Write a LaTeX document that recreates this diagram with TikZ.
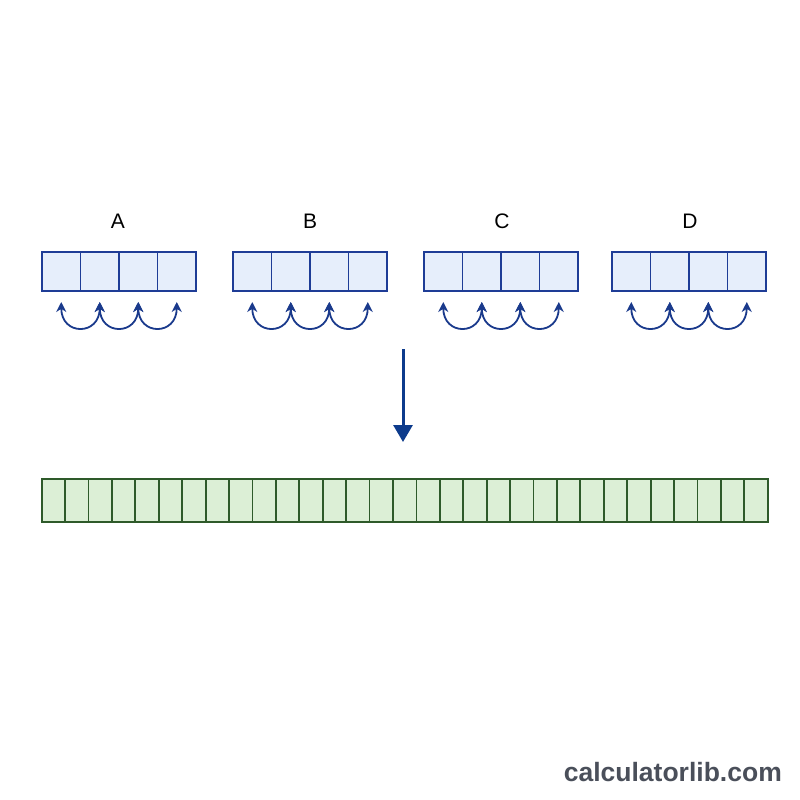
\documentclass[tikz,border=0pt]{standalone}
\usepackage{fontspec}
\setmainfont{Liberation Sans}
\usetikzlibrary{arrows.meta,calc}
\definecolor{bluefill}{HTML}{E6EEFB}
\definecolor{bluedraw}{HTML}{1E3C96}
\definecolor{arcblue}{HTML}{1A3A8C}
\definecolor{arrowblue}{HTML}{0D3B8C}
\definecolor{greenfill}{HTML}{DCEFD6}
\definecolor{greendraw}{HTML}{2E5A2A}
\definecolor{markgray}{HTML}{4A4F5A}
\tikzset{
  bluecell/.style={draw=bluedraw, fill=bluefill, line width=1.8pt, minimum width=38.5pt, minimum height=39pt, inner sep=0pt, outer sep=0pt, anchor=north west},
  greencell/.style={draw=greendraw, fill=greenfill, line width=1.8pt, minimum width=23.42pt, minimum height=43pt, inner sep=0pt, outer sep=0pt, anchor=north west},
  arraylabel/.style={font=\fontsize{21}{24}\selectfont, text=black, inner sep=0pt},
  hop/.style={draw=arcblue, line width=1.8pt, {Stealth[length=10pt,width=10pt]}-{Stealth[length=10pt,width=10pt]}},
  bigarrow/.style={draw=arrowblue, line width=3pt, -{Triangle[length=17pt,width=19pt]}},
  watermark/.style={font=\fontsize{26.5}{30}\selectfont\bfseries, text=markgray, inner sep=0pt, anchor=east}
}
\begin{document}
\begin{tikzpicture}[x=1pt,y=-1pt]
\useasboundingbox[fill=white] (0,0) rectangle (800,800);
% blue arrays
\foreach \name/\lx/\lab/\labx in {A/42/A/118, B/233/B/310, C/424/C/502, D/612/D/690}{
  \node[arraylabel] (lab\name) at (\labx,221) {\lab};
  \foreach \i in {1,2,3,4}{
    \node[bluecell] (\name\i) at ({\lx+(\i-1)*38.5},252) {};
    \coordinate (\name t\i) at ({\lx+(\i-0.5)*38.5},302);
  }
  \foreach \i/\j in {1/2,2/3,3/4}{
    \draw[hop] (\name t\i) .. controls ($(\name t\i)+(0,34)$) and ($(\name t\j)+(0,34)$) .. (\name t\j);
  }
}
% down arrow
\coordinate (as) at (403,349);
\coordinate (ae) at (403,442);
\draw[bigarrow] (as) -- (ae);
% green array
\foreach \i in {1,...,31}{
  \node[greencell] (G\i) at ({41.7+(\i-1)*23.42},479) {};
}
\node[watermark] (wm) at (782,772) {calculatorlib.com};
\end{tikzpicture}
\end{document}
